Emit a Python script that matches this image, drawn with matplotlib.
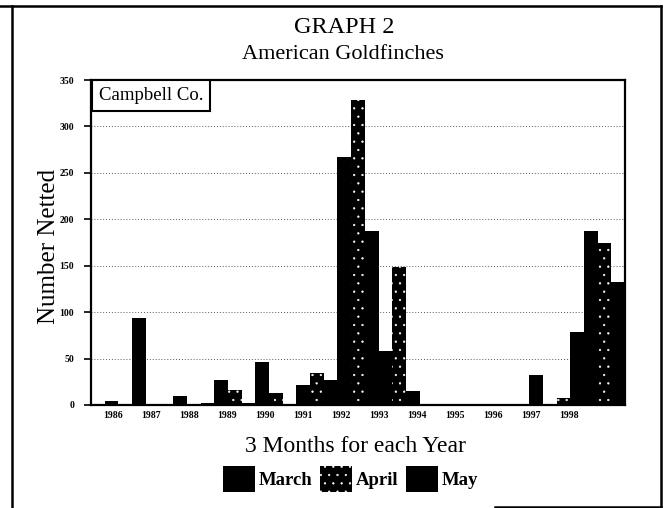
import numpy as np
import matplotlib
matplotlib.use('Agg')
import matplotlib.pyplot as plt
from matplotlib.patches import Rectangle
from matplotlib.lines import Line2D

# data
years = ['1986', '1987', '1988', '1989', '1990', '1991', '1992',
         '1993', '1994', '1995', '1996', '1997', '1998']
march = [0, 94, 10, 27, 46, 22, 267, 58, 0, 0, 0, 0, 187]
april = [4, 1, 1, 16, 13, 34, 328, 149, 0, 0, 0, 8, 174]
may = [0, 0, 2, 2, 0, 27, 187, 15, 0, 0, 32, 79, 132]
months = ['March', 'April', 'May']

plt.rcParams['font.family'] = 'Liberation Serif'
plt.rcParams['hatch.color'] = 'white'
plt.rcParams['hatch.linewidth'] = 0.4

fig = plt.figure(figsize=(6.67, 5.08), dpi=100)
ax = fig.add_axes([91 / 667, 103 / 508, 534 / 667, 325 / 508])

x = np.arange(len(years))
w = 1 / 3
b1 = ax.bar(x, march, w, align='edge', color='black', linewidth=0, label=months[0])
b2 = ax.bar(x + w, april, w, align='edge', color='black', linewidth=0,
            hatch='..', label=months[1])
b3 = ax.bar(x + 2 * w, may, w, align='edge', color='black', linewidth=0, label=months[2])

ax.set_xlim(0, len(years))
ax.set_ylim(0, 350)
ax.set_yticks(np.arange(0, 351, 50))
# labels in the original drift a bit left of the bar groups
ax.set_xticks(0.543 + 0.9245 * x)
ax.set_xticklabels(years)
ax.tick_params(axis='x', length=0, pad=4, labelsize=7)
ax.tick_params(axis='y', length=5, width=1.2, pad=7, labelsize=7)
for lab in ax.get_xticklabels() + ax.get_yticklabels():
    lab.set_fontweight('bold')

ax.set_axisbelow(True)
ax.yaxis.grid(True, linestyle=(0, (1, 2)), color='0.35', linewidth=0.7)
for s in ax.spines.values():
    s.set_linewidth(1.6)

# county box
ax.add_patch(Rectangle((0.002, 0.905), 0.221, 0.095, transform=ax.transAxes,
                       facecolor='white', edgecolor='black', linewidth=1.5, zorder=5))
ax.text(0.1125, 0.952, 'Campbell Co.', transform=ax.transAxes, ha='center', va='center',
        fontsize=13.5, zorder=6)

fig.text(344.5 / 667, 1 - 32.7 / 508, 'GRAPH 2', ha='center', va='baseline', fontsize=17.5)
fig.text(343 / 667, 1 - 59.3 / 508, 'American Goldfinches', ha='center', va='baseline', fontsize=16)
fig.text(355.5 / 667, 1 - 451.7 / 508, '3 Months for each Year', ha='center', va='baseline',
         fontsize=17)
fig.text(49.5 / 667, 1 - 246 / 508, 'Number Netted', rotation=90, ha='center', va='center',
         fontsize=18)

fig.legend(handles=[b1, b2, b3], labels=months, ncol=3, loc='center',
           bbox_to_anchor=(350.5 / 667, 1 - 479 / 508), frameon=False,
           prop={'size': 13.5, 'weight': 'bold'}, handlelength=1.7, handleheight=1.7,
           handletextpad=0.2, columnspacing=0.4, borderpad=0)

# outer frame of the page
fr = dict(color='black', linewidth=1.8, transform=fig.transFigure)
fig.add_artist(Line2D([12 / 667, 12 / 667], [0, 1 - 6 / 508], **fr))
fig.add_artist(Line2D([0, 661 / 667], [1 - 6 / 508, 1 - 6 / 508], **fr))
fig.add_artist(Line2D([661 / 667, 661 / 667], [1 - 6 / 508, 1 - 507 / 508], **fr))
fig.add_artist(Line2D([495 / 667, 661 / 667], [1 - 507 / 508, 1 - 507 / 508], **fr))

fig.savefig('out.png', dpi=100)
